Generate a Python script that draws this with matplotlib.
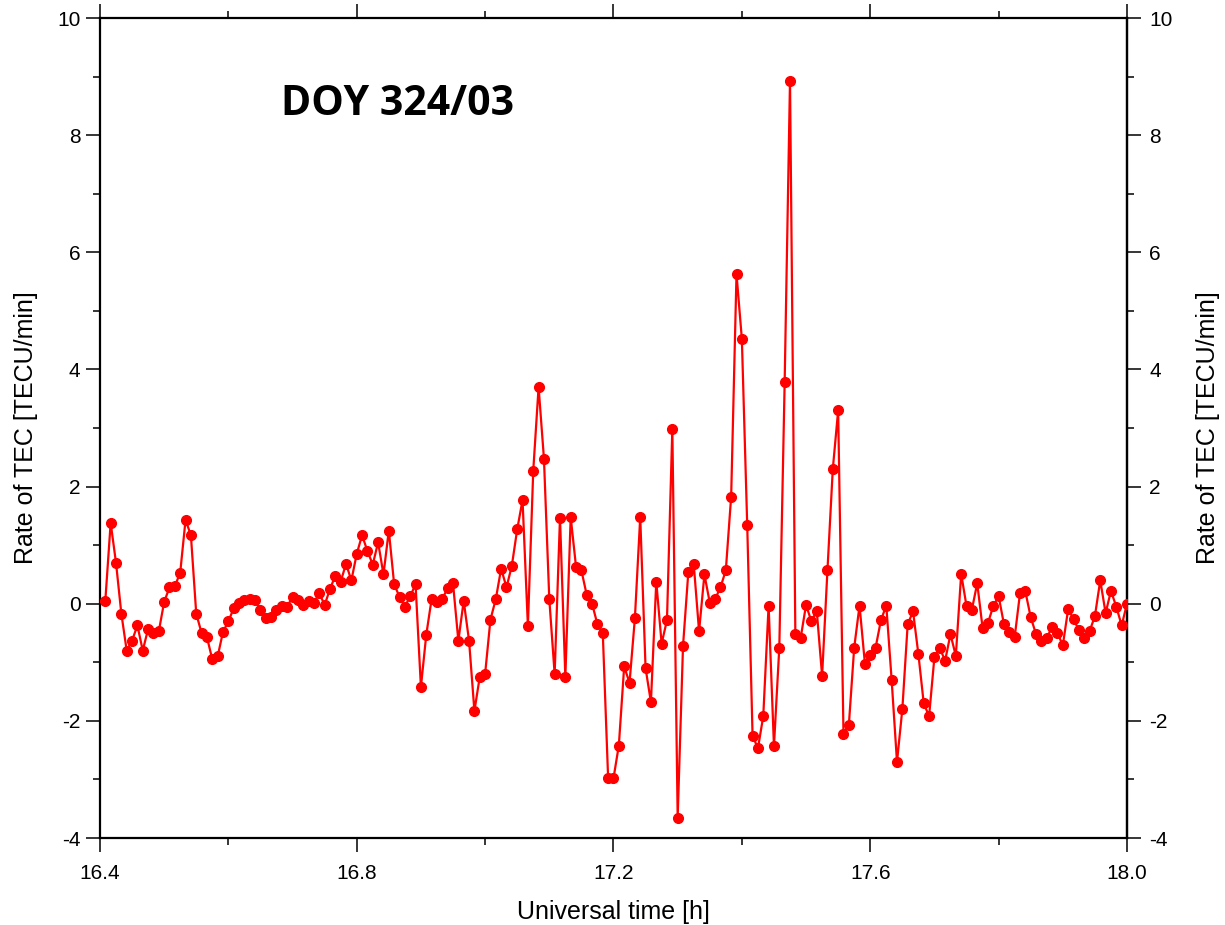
import numpy as np
import matplotlib.pyplot as plt
from matplotlib.ticker import MultipleLocator, FixedLocator

# Rate of TEC, 30 s samples from 16.4 h to 18.0 h UT
t_start = 16.4
t_step = 30.0 / 3600.0
rot = [
    0.05, 1.38, 0.70, -0.17, -0.80, -0.63, -0.37, -0.80, -0.43, -0.50,
    -0.47, 0.03, 0.28, 0.30, 0.53, 1.43, 1.17, -0.17, -0.50, -0.57,
    -0.95, -0.90, -0.48, -0.30, -0.08, 0.02, 0.07, 0.08, 0.07, -0.10,
    -0.25, -0.22, -0.10, -0.03, -0.05, 0.12, 0.07, -0.02, 0.05, 0.02,
    0.18, -0.02, 0.25, 0.48, 0.38, 0.68, 0.40, 0.85, 1.17, 0.90,
    0.67, 1.05, 0.50, 1.25, 0.33, 0.12, -0.05, 0.13, 0.33, -1.42,
    -0.53, 0.08, 0.03, 0.08, 0.27, 0.35, -0.63, 0.05, -0.63, -1.83,
    -1.25, -1.20, -0.27, 0.08, 0.60, 0.28, 0.65, 1.27, 1.77, -0.38,
    2.27, 3.70, 2.48, 0.08, -1.20, 1.47, -1.25, 1.48, 0.63, 0.57,
    0.15, 0.00, -0.35, -0.50, -2.98, -2.98, -2.42, -1.07, -1.35, -0.25,
    1.48, -1.10, -1.68, 0.38, -0.68, -0.28, 2.98, -3.65, -0.72, 0.55,
    0.68, -0.47, 0.50, 0.02, 0.08, 0.28, 0.57, 1.83, 5.63, 4.52,
    1.35, -2.25, -2.47, -1.92, -0.03, -2.43, -0.75, 3.78, 8.93, -0.52,
    -0.58, -0.02, -0.30, -0.12, -1.23, 0.57, 2.30, 3.30, -2.22, -2.07,
    -0.75, -0.03, -1.02, -0.88, -0.75, -0.28, -0.03, -1.30, -2.70, -1.80,
    -0.35, -0.13, -0.86, -1.70, -1.92, -0.91, -0.76, -0.97, -0.52, -0.89,
    0.51, -0.04, -0.10, 0.35, -0.41, -0.33, -0.04, 0.13, -0.35, -0.48,
    -0.57, 0.18, 0.21, -0.23, -0.52, -0.63, -0.58, -0.40, -0.50, -0.71,
    -0.09, -0.26, -0.45, -0.59, -0.47, -0.21, 0.40, -0.16, 0.22, -0.05,
    -0.37, 0.00,
]
ut = t_start + t_step * np.arange(1, len(rot) + 1)

y_major = list(range(-4, 11, 2))
y_minor = list(range(-4, 11, 1))

plt.rcParams["font.family"] = ["Liberation Sans", "DejaVu Sans"]
plt.rcParams["axes.unicode_minus"] = False

fig = plt.figure(figsize=(12.25, 9.25), dpi=100)
ax = fig.add_axes([0.0816, 0.094, 0.8384, 0.8865])

ax.plot(ut, rot, color="red", lw=1.6, marker="o", ms=7, mec="red", mfc="red", zorder=3)

ax.set_xlim(16.4, 18.0)
ax.set_ylim(-4, 10)
ax.xaxis.set_major_locator(MultipleLocator(0.4))
ax.xaxis.set_minor_locator(MultipleLocator(0.2))
ax.yaxis.set_major_locator(FixedLocator(y_major))
ax.yaxis.set_minor_locator(FixedLocator(y_minor))
ax.xaxis.set_major_formatter(lambda v, p: f"{v:.1f}")

for s in ax.spines.values():
    s.set_linewidth(1.6)

ax.tick_params(which="both", direction="out", top=True, right=False,
               labelsize=15, width=1.1)
ax.tick_params(axis="x", pad=9)
ax.tick_params(axis="y", pad=4)
ax.tick_params(which="major", length=10)
ax.tick_params(which="minor", length=5)

ax.set_xlabel("Universal time [h]", fontsize=18, labelpad=12)
ax.set_ylabel("Rate of TEC [TECU/min]", fontsize=18, labelpad=14)

# right-hand axis repeats the y scale
sec = ax.secondary_yaxis("right")
sec.yaxis.set_major_locator(FixedLocator(y_major))
sec.yaxis.set_minor_locator(FixedLocator(y_minor))
sec.spines["right"].set_linewidth(1.6)
sec.tick_params(which="both", direction="out", labelsize=15, width=1.1, pad=6)
sec.tick_params(which="major", length=10)
sec.tick_params(which="minor", length=5)
sec.set_ylabel("Rate of TEC [TECU/min]", fontsize=18, labelpad=17)

ax.text(0.176, 0.8815, "DOY 324/03", transform=ax.transAxes,
        fontsize=29.5, fontweight="bold", family=["Open Sans", "DejaVu Sans"],
        ha="left", va="baseline")

fig.savefig("out.png", dpi=100)
